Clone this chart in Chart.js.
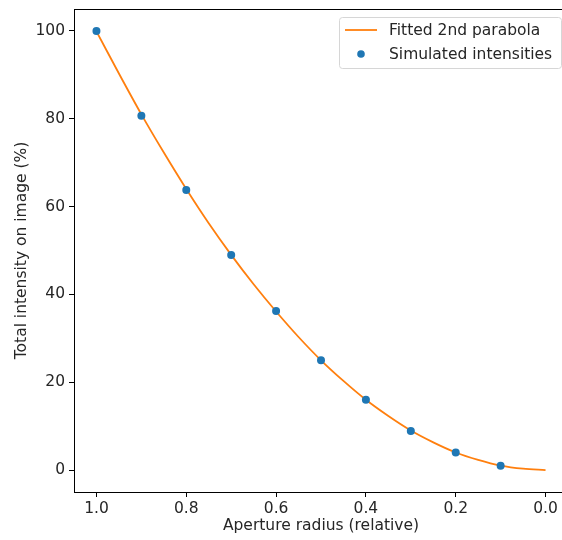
<!DOCTYPE html>
<html>
<head>
<meta charset="utf-8">
<script src="https://cdn.jsdelivr.net/npm/chart.js@4/dist/chart.umd.min.js"></script>
<style>
    html, body { margin: 0; padding: 0; background: #fff; overflow: hidden; }
    #wrap { width: 580px; height: 540px; }
</style>
</head>
<body>
<div id="wrap"><canvas id="fit-chart" width="580" height="540"></canvas></div>
<script>
// aperture radius of the simulated runs and their total intensity (%)
const radii = [1.0, 0.9, 0.8, 0.7, 0.6, 0.5, 0.4, 0.3, 0.2, 0.1];
const intensities = [100.0, 80.7, 63.8, 49.0, 36.2, 25.0, 16.0, 8.9, 4.0, 1.0];

// fitted 2nd order parabola, sampled along the radius
const fitRadii = [1.0, 0.95, 0.9, 0.85, 0.8, 0.75, 0.7, 0.65, 0.6, 0.55, 0.5,
    0.45, 0.4, 0.35, 0.3, 0.25, 0.2, 0.15, 0.1, 0.05, 0.0];
const fitValues = [99.9, 90.3, 81.0, 72.3, 64.0, 56.2, 49.0, 42.3, 36.1, 30.3, 25.0,
    20.3, 16.0, 12.3, 9.0, 6.3, 4.0, 2.3, 1.0, 0.3, 0.0];

const xTicks = [1.0, 0.8, 0.6, 0.4, 0.2, 0.0];
const yTicks = [0, 20, 40, 60, 80, 100];

const BLUE = '#1f77b4';
const ORANGE = '#ff7f0e';
const FONT = 'DejaVu Sans';
const FONT_SIZE = 15.5;

function toPoints(xs, ys) {
    return xs.map((x, i) => ({ x: x, y: ys[i] }));
}

// full box around the plot area plus legend in the upper right corner
const framePlugin = {
    id: 'frame',
    afterDraw(chart) {
        const { ctx, chartArea: a } = chart;
        ctx.save();
        ctx.strokeStyle = '#000';
        ctx.lineWidth = 1;
        ctx.strokeRect(Math.round(a.left) + 0.5, Math.round(a.top) + 0.5,
            Math.round(a.right - a.left), Math.round(a.bottom - a.top));

        const sets = chart.data.datasets;
        const boxW = 222, boxH = 51;
        const bx = a.right - 7 - boxW;
        const by = a.top + 8;
        ctx.beginPath();
        ctx.roundRect(bx + 0.5, by + 0.5, boxW, boxH, 3);
        ctx.fillStyle = 'rgba(255,255,255,0.8)';
        ctx.fill();
        ctx.strokeStyle = '#d6d6d6';
        ctx.stroke();

        ctx.font = FONT_SIZE + 'px "' + FONT + '"';
        ctx.textBaseline = 'middle';
        sets.forEach((ds, i) => {
            const cy = by + 13 + i * 24;
            if (ds.showLine) {
                ctx.strokeStyle = ds.borderColor;
                ctx.lineWidth = 1.8;
                ctx.beginPath();
                ctx.moveTo(bx + 6, cy);
                ctx.lineTo(bx + 38, cy);
                ctx.stroke();
            } else {
                ctx.fillStyle = ds.backgroundColor;
                ctx.beginPath();
                ctx.arc(bx + 22, cy, 3.8, 0, Math.PI * 2);
                ctx.fill();
            }
            ctx.fillStyle = '#262626';
            ctx.fillText(ds.label, bx + 50, cy + 1);
        });
        ctx.restore();
    }
};

new Chart(document.getElementById('fit-chart'), {
    type: 'scatter',
    data: {
        datasets: [
            {
                label: 'Fitted 2nd parabola',
                data: toPoints(fitRadii, fitValues),
                showLine: true,
                borderColor: ORANGE,
                backgroundColor: ORANGE,
                borderWidth: 1.8,
                pointRadius: 0,
                cubicInterpolationMode: 'monotone',
                order: 2
            },
            {
                label: 'Simulated intensities',
                data: toPoints(radii, intensities),
                showLine: false,
                backgroundColor: BLUE,
                borderColor: BLUE,
                pointRadius: 4,
                pointBorderWidth: 0,
                order: 1
            }
        ]
    },
    options: {
        responsive: false,
        animation: false,
        layout: { padding: { top: 9, right: 12, left: 0, bottom: 0 } },
        plugins: {
            legend: { display: false },
            tooltip: { enabled: false }
        },
        scales: {
            x: {
                type: 'linear',
                reverse: true,
                min: -0.05,
                max: 1.05,
                afterBuildTicks: scale => { scale.ticks = xTicks.map(v => ({ value: v })); },
                afterFit: scale => {
                    scale.height = 48;
                    scale.paddingLeft = 0;
                    scale.paddingRight = 0;
                },
                grid: { drawOnChartArea: false, color: '#000', tickLength: 5, tickWidth: 1 },
                border: { display: false },
                ticks: {
                    color: '#262626',
                    padding: 3,
                    maxRotation: 0,
                    font: { family: FONT, size: FONT_SIZE },
                    callback: v => v.toFixed(1)
                },
                title: {
                    display: true,
                    text: 'Aperture radius (relative)',
                    color: '#262626',
                    font: { family: FONT, size: FONT_SIZE },
                    padding: { top: 0, bottom: 5 }
                }
            },
            y: {
                min: -5,
                max: 105,
                afterBuildTicks: scale => { scale.ticks = yTicks.map(v => ({ value: v })); },
                afterFit: scale => {
                    scale.width = 74;
                    scale.paddingTop = 0;
                    scale.paddingBottom = 0;
                },
                grid: { drawOnChartArea: false, color: '#000', tickLength: 5, tickWidth: 1 },
                border: { display: false },
                ticks: {
                    color: '#262626',
                    padding: 4,
                    font: { family: FONT, size: FONT_SIZE },
                    callback: v => String(v)
                },
                title: {
                    display: true,
                    text: 'Total intensity on image (%)',
                    color: '#262626',
                    font: { family: FONT, size: FONT_SIZE },
                    padding: { top: 13, bottom: 0 }
                }
            }
        }
    },
    plugins: [framePlugin]
});
</script>
</body>
</html>
